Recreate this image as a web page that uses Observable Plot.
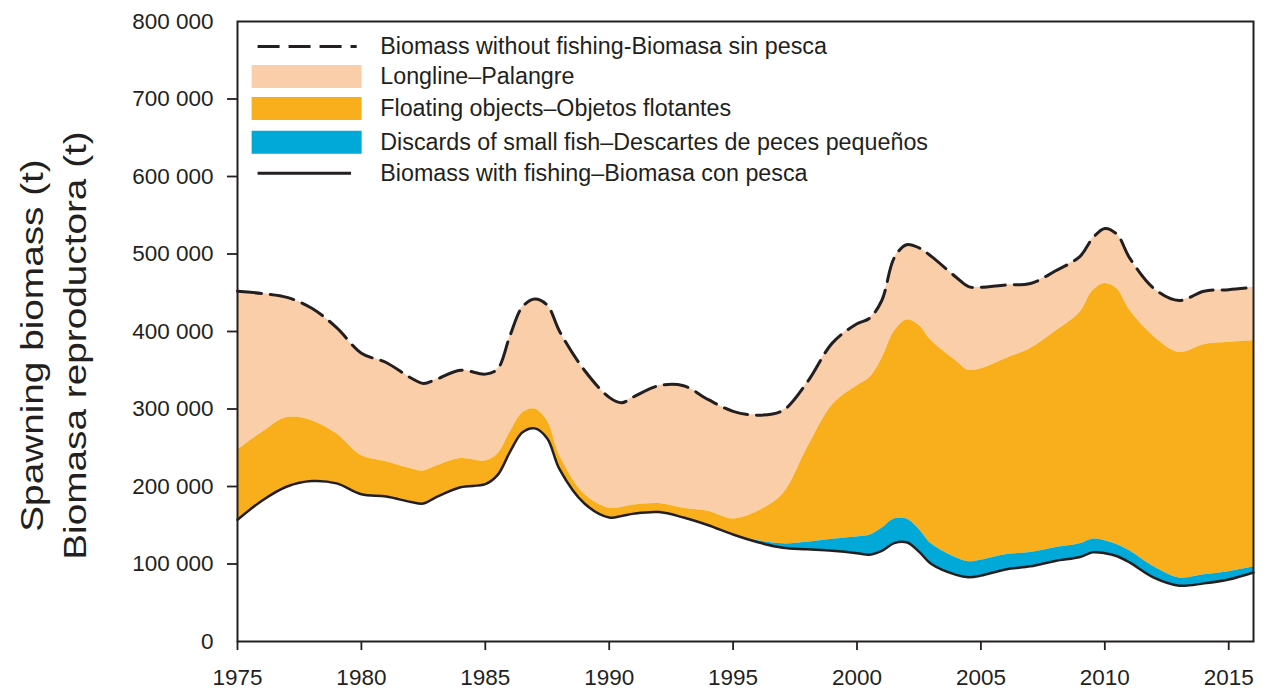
<!DOCTYPE html>
<html><head><meta charset="utf-8">
<script src="https://cdn.jsdelivr.net/npm/d3@7"></script>
<script src="https://cdn.jsdelivr.net/npm/@observablehq/plot@0.6"></script>
<style>body{margin:0;background:#fff;} #chart svg{display:block}</style>
</head><body><div id="chart"></div>
<script>
const years = [1975,1976,1977,1978,1979,1980,1981,1982,1982.5,1983,1984,1985,1985.5,1986,1986.5,1987,1987.5,1988,1989,1990,1990.5,1991,1992,1993,1994,1995,1996,1997,1998,1999,2000,2000.5,2001,2001.5,2002,2002.5,2003,2004,2004.5,2005,2006,2007,2008,2009,2009.5,2010,2010.5,2011,2012,2013,2014,2015,2016];
const biomassWithoutFishing = [452000,449000,444000,430000,405000,372000,360000,340000,333000,338000,350000,345000,352000,395000,432000,442000,434000,400000,350000,315000,308000,316000,330000,330000,312000,297000,292000,298000,335000,385000,410000,417000,440000,495000,512000,508000,497000,470000,458000,457000,460000,462000,478000,497000,520000,533000,525000,495000,455000,440000,452000,454000,457000];
const floatingObjectsTop = [247000,270000,289000,285000,268000,240000,232000,223000,220000,226000,236000,233000,242000,270000,295000,300000,285000,240000,190000,172000,173000,176000,178000,172000,168000,158000,168000,190000,250000,305000,330000,340000,365000,400000,415000,408000,388000,362000,350000,352000,365000,378000,400000,425000,452000,462000,455000,428000,393000,373000,383000,386000,388000];
const discardsTop = [157000,182000,200000,207000,204000,190000,187000,180000,178000,186000,199000,203000,215000,245000,270000,275000,262000,222000,178000,160000,162000,165000,167000,160000,150000,138000,130000,126000,128000,132000,135000,137000,146000,158000,158000,145000,126000,108000,103000,105000,112000,115000,121000,126000,132000,130000,125000,117000,96000,82000,86000,90000,96000];
const biomassWithFishing = [157000,182000,200000,207000,204000,190000,187000,180000,178000,186000,199000,203000,215000,245000,270000,275000,262000,222000,178000,160000,162000,165000,167000,160000,150000,138000,128000,121000,119000,117000,114000,112000,117000,127000,128000,116000,100000,86000,83000,85000,93000,97000,104000,109000,115000,114000,110000,102000,82000,72000,75000,80000,89000];

const xTicks = [1975,1980,1985,1990,1995,2000,2005,2010,2015];
const yTicks = [0,100000,200000,300000,400000,500000,600000,700000,800000];
const legendLabels = [
  "Biomass without fishing-Biomasa sin pesca",
  "Longline\u2013Palangre",
  "Floating objects\u2013Objetos flotantes",
  "Discards of small fish\u2013Descartes de peces pequeños",
  "Biomass with fishing\u2013Biomasa con pesca"
];
const yTitle = "Spawning biomass (t)\nBiomasa reproductora (t)";

const INK = "#231f20";
const C_LONG = "#F9CEA9", C_FLOAT = "#F9AF1C", C_DISC = "#00A9D8";
const curve = "catmull-rom";

const rows = years.map((year, i) => ({year, nf: biomassWithoutFishing[i], ft: floatingObjectsTop[i], dt: discardsTop[i], wf: biomassWithFishing[i]}));
const fmt = d => d3.format(",")(d).replace(/,/g, " ");

// legend layout (in data units of the plot)
const lgY = [767800, 729100, 687900, 644100, 604100];
const lgRows = legendLabels.map((label, i) => ({label, y: lgY[i]}));

const chart = Plot.plot({
  width: 1268, height: 691,
  marginLeft: 237, marginRight: 15, marginTop: 21, marginBottom: 50,
  style: {fontFamily: "'Liberation Sans', Arial, sans-serif", fontSize: "22px", color: INK, background: "#fff"},
  x: {domain: [1975, 2016]},
  y: {domain: [0, 800000]},
  marks: [
    Plot.areaY(rows, {x: "year", y1: "ft", y2: "nf", fill: C_LONG, curve}),
    Plot.areaY(rows, {x: "year", y1: "dt", y2: "ft", fill: C_FLOAT, curve}),
    Plot.areaY(rows, {x: "year", y1: "wf", y2: "dt", fill: C_DISC, curve}),
    Plot.lineY(rows, {x: "year", y: "wf", stroke: INK, strokeWidth: 2.5, curve}),
    Plot.lineY(rows, {x: "year", y: "nf", stroke: INK, strokeWidth: 3, strokeDasharray: "24,9", curve}),
    Plot.frame({stroke: INK, strokeWidth: 2}),
    Plot.axisX({ticks: xTicks, tickFormat: d => String(d), tickSize: 9, tickPadding: 19, fontSize: 22.5, strokeWidth: 1.8, label: null}),
    Plot.axisY({ticks: yTicks.slice(1, -1), tickFormat: fmt, tickSize: 10, tickPadding: 14, fontSize: 22.5, strokeWidth: 1.8, label: null}),
    Plot.axisY({ticks: [yTicks[0], yTicks[yTicks.length - 1]], tickFormat: fmt, tickSize: 0, tickPadding: 24, fontSize: 22.5, label: null}),
    // legend
    Plot.ruleY([lgRows[0]], {y: "y", x1: 1975.83, x2: 1979.83, stroke: INK, strokeWidth: 3, strokeDasharray: "22,9"}),
    Plot.ruleY([lgRows[1]], {y: "y", x1: 1975.59, x2: 1980.03, stroke: C_LONG, strokeWidth: 23}),
    Plot.ruleY([lgRows[2]], {y: "y", x1: 1975.59, x2: 1980.03, stroke: C_FLOAT, strokeWidth: 23}),
    Plot.ruleY([lgRows[3]], {y: "y", x1: 1975.59, x2: 1980.03, stroke: C_DISC, strokeWidth: 23}),
    Plot.ruleY([lgRows[4]], {y: "y", x1: 1975.83, x2: 1979.6, stroke: INK, strokeWidth: 3}),
    Plot.text(lgRows, {x: 1980.76, y: "y", text: "label", textAnchor: "start", fontSize: 23.3, fill: INK}),
    // y-axis title
    Plot.text([yTitle], {frameAnchor: "left", textAnchor: "middle", lineAnchor: "middle", dx: -187, dy: 14, rotate: -90, fontSize: 31, lineHeight: 1.4, fill: INK, className: "ytitle"})
  ]
});
document.getElementById("chart").appendChild(chart);
d3.select(chart).selectAll(".ytitle text").each(function() {
  const el = this.getAttribute("transform") ? this : this.parentNode;
  el.setAttribute("transform", (el.getAttribute("transform") || "") + " scale(1.25,1)");
});
</script>
</body></html>
